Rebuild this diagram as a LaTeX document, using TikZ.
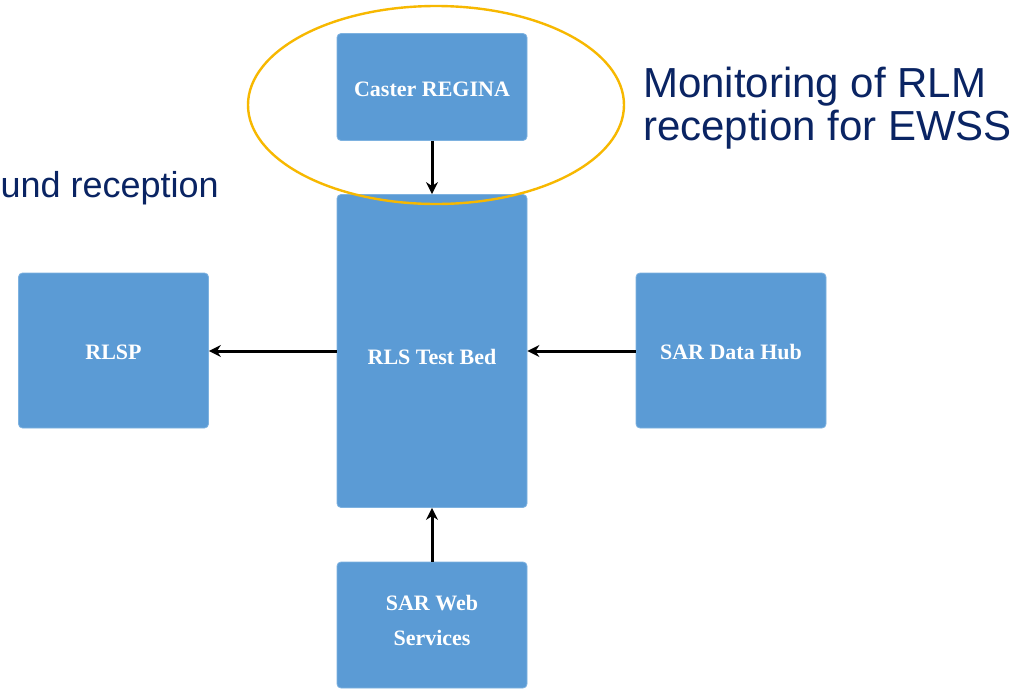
\documentclass[tikz,border=0pt]{standalone}
\usepackage{fontspec}
\setmainfont{Liberation Serif}
\newfontfamily\armfont{Liberation Sans}
\usetikzlibrary{arrows.meta,shapes.geometric}
\definecolor{boxblue}{HTML}{5B9BD5}
\definecolor{boxedge}{HTML}{7EB2E0}
\definecolor{navy}{HTML}{0A2463}
\definecolor{gold}{HTML}{F7B800}
\tikzset{
  blockbox/.style={draw=boxedge, line width=0.8pt, fill=boxblue, rounded corners=4pt,
    inner sep=0pt},
  boxlabel/.style={inner sep=0pt, text=white, font=\bfseries\fontsize{22}{35}\selectfont, align=center},
  flow/.style={line width=3pt, draw=black, -{Stealth[length=12pt,width=12pt]}},
  callout/.style={text=navy, inner sep=0pt, align=left}
}
\begin{document}
\begin{tikzpicture}[x=1pt,y=-1pt]
\useasboundingbox (0,0) rectangle (1028,689);
\fill[white] (0,0) rectangle (1028,689);
% boxes
\node[blockbox, minimum width=190pt, minimum height=107pt] (caster) at (432,87) {};
\node[blockbox, minimum width=190pt, minimum height=313pt] (rls) at (432,351) {};
\node[blockbox, minimum width=190pt, minimum height=155pt] (rlsp) at (113.5,350.5) {};
\node[blockbox, minimum width=190pt, minimum height=155pt] (hub) at (731,350.5) {};
\node[blockbox, minimum width=190pt, minimum height=126pt] (web) at (432,625) {};
% labels
\node[boxlabel] (casterlbl) at (432,89) {Caster REGINA};
\node[boxlabel] (rlslbl) at (432,357) {RLS Test Bed};
\node[boxlabel] (rlsplbl) at (113.5,352) {RLSP};
\node[boxlabel] (hublbl) at (731,352) {SAR Data Hub};
\node[boxlabel] (weblbl) at (432,620) {SAR Web\\Services};
% connectors
\draw[flow] (caster.south) -- (rls.north);
\draw[flow] (rls.west |- 0,351) -- (rlsp.east |- 0,351);
\draw[flow] (hub.west |- 0,351) -- (rls.east |- 0,351);
\draw[flow] (web.north) -- (rls.south);
% ellipse highlight
\node[ellipse, draw=gold, line width=2.4pt, minimum width=376pt, minimum height=198pt, inner sep=0pt] (ring) at (436,105) {};
% callouts
\node[callout, anchor=base west, font=\armfont\fontsize{42}{43}\selectfont] (mon) at (643,140) {Monitoring of RLM\\reception for EWSS};
\node[callout, anchor=base east, font=\armfont\fontsize{36}{40}\selectfont] (gnd) at (219,197) {und reception};
\end{tikzpicture}
\end{document}
